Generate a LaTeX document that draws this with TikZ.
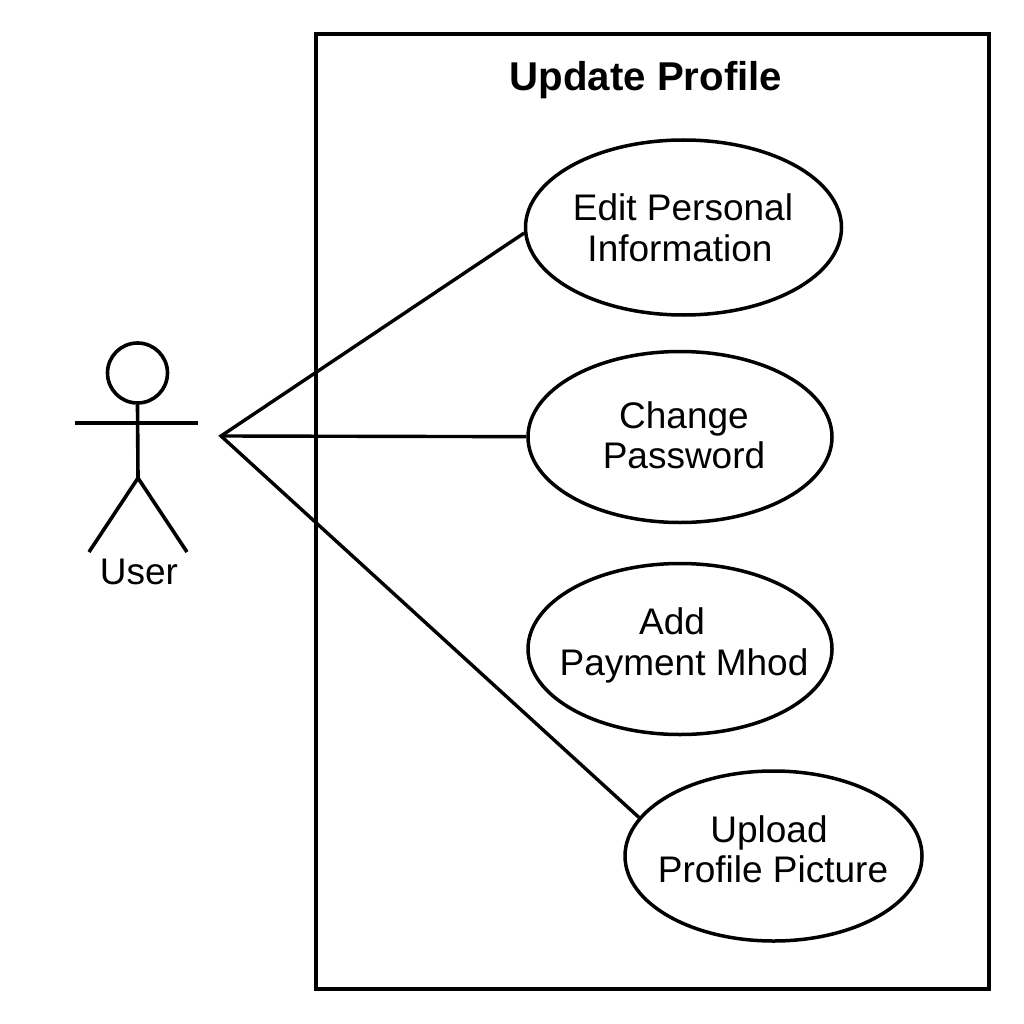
\documentclass[tikz,border=0pt]{standalone}
\usepackage{fontspec}
\setmainfont{Liberation Sans}
\usetikzlibrary{shapes.geometric, positioning}

\begin{document}
\begin{tikzpicture}[
    x=1pt, y=-1pt,
    % Stil für die Anwendungsfälle
    usecase/.style={draw, ellipse, line width=3.5pt, inner sep=0pt},
    % Beschriftung
    caselabel/.style={anchor=base, inner sep=0pt, font=\fontsize{37}{40}\selectfont},
    % Strichmännchen
    stick/.style={line width=3.6pt},
    assoc/.style={line width=3.4pt, line join=miter},
    title/.style={anchor=base, inner sep=0pt, font=\fontsize{40.2}{44}\selectfont\bfseries}
]
\useasboundingbox (0,0) rectangle (1024,1024);

% --- System-Rahmen ---
\draw[line width=4pt] (316,34) rectangle (989,989);
\node[title] (titel) at (646,90.5) {Update Profile};

% --- Anwendungsfälle ---
\node[usecase, minimum width=316pt, minimum height=175pt] (edit) at (683.5,227.5) {};
\node[usecase, minimum width=304pt, minimum height=171pt] (change) at (680,437) {};
\node[usecase, minimum width=304pt, minimum height=171pt] (add) at (680,649) {};
\node[usecase, minimum width=297pt, minimum height=170pt] (upload) at (773.5,856) {};

\node[caselabel] (editA) at (683,221) {Edit Personal};
\node[caselabel] (editB) at (680,261) {Information};
\node[caselabel] (changeA) at (684,428) {Change};
\node[caselabel] (changeB) at (684,468) {Password};
\node[caselabel] (addA) at (672,634.5) {Add};
\node[caselabel] (addB) at (684,675) {Payment Mhod};
\node[caselabel] (uploadA) at (769,842.5) {Upload};
\node[caselabel] (uploadB) at (773,882.5) {Profile Picture};

% --- Akteur ---
\node[draw, circle, line width=3.6pt, minimum size=60pt, inner sep=0pt] (kopf) at (137.5,373) {};
\coordinate (huefte) at (138,478);
\coordinate (armL) at (75,423);
\coordinate (armR) at (198,423);
\coordinate (beinL) at (89,552);
\coordinate (beinR) at (187,552);
\draw[stick] (kopf.south) -- (huefte);
\draw[stick] (armL) -- (armR);
\draw[stick] (beinL) -- (huefte) -- (beinR);
\node[caselabel] (user) at (139,584) {User};

% --- Assoziationen ---
\coordinate (start) at (221,436);
\draw[assoc] (edit.182.4) -- (start) -- (upload.164.2);
\draw[assoc] (start) -- (change);
\end{tikzpicture}
\end{document}
